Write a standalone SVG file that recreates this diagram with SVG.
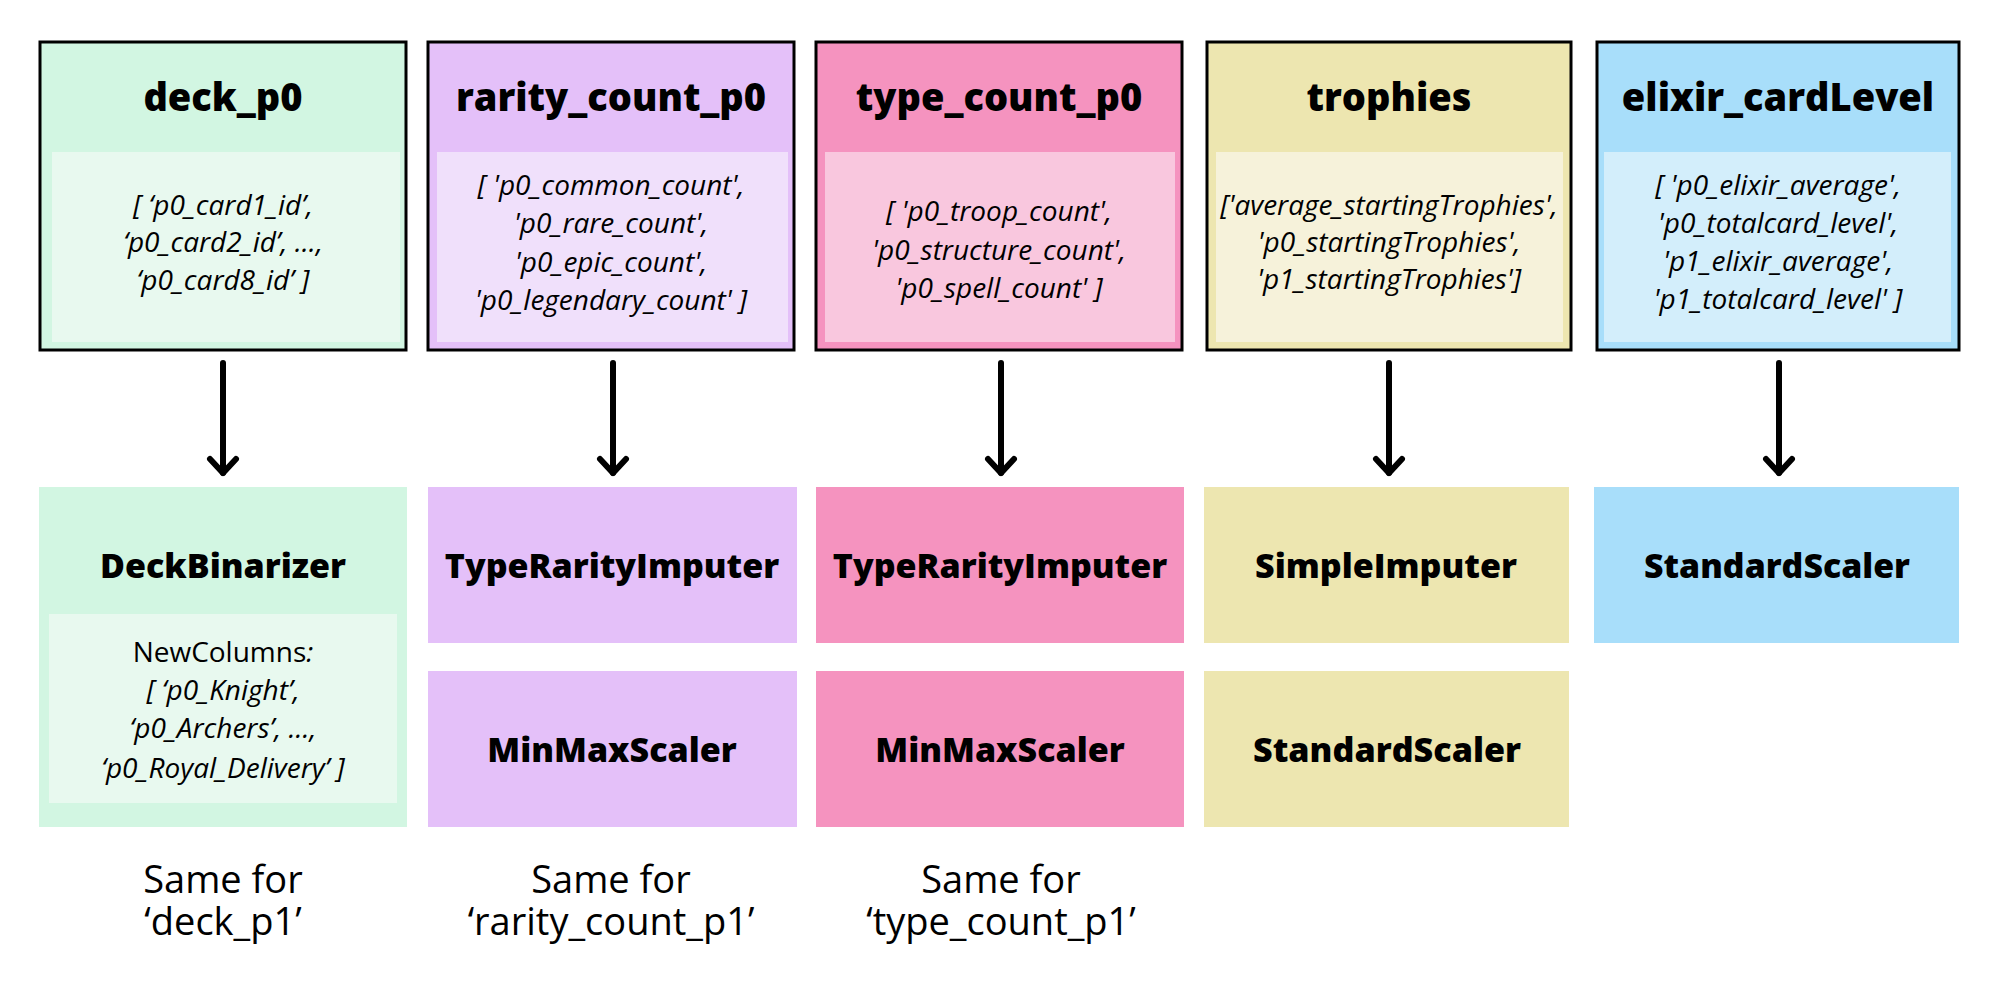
<svg xmlns="http://www.w3.org/2000/svg" width="2000" height="987" viewBox="0 0 2000 987">
<defs>
<style>
.frame{stroke:#000;stroke-width:3}
.title{font-family:"Open Sans","Liberation Sans",sans-serif;font-weight:800;font-size:38px;fill:#000;text-anchor:middle}
.lbl{font-family:"Open Sans","Liberation Sans",sans-serif;font-weight:800;font-size:34px;fill:#000;text-anchor:middle}
.cols{font-family:"Open Sans","Liberation Sans",sans-serif;font-style:italic;font-size:28px;fill:#000;text-anchor:middle}
.reg{font-style:normal}
.note{font-family:"Open Sans","Liberation Sans",sans-serif;font-size:38px;fill:#000;text-anchor:middle}
.conn{stroke:#000;stroke-width:6;fill:none;stroke-linecap:round;marker-end:url(#chev)}
.g1{fill:#d2f6e2}.g2{fill:#e8f9ef}
.p1{fill:#e4c0f9}.p2{fill:#f0e0fb}
.k1{fill:#f593bf}.k2{fill:#f9c7de}
.y1{fill:#ede6b0}.y2{fill:#f6f2da}
.b1{fill:#a8defa}.b2{fill:#d3eefb}
</style>
<marker id="chev" markerUnits="userSpaceOnUse" viewBox="-20 -20 40 40" markerWidth="40" markerHeight="40" refX="0" refY="0" orient="auto" overflow="visible">
<path d="M-14,-13 L0,0 L-14,13" fill="none" stroke="#000" stroke-width="6" stroke-linecap="round" stroke-linejoin="round"/>
</marker>
</defs>
<rect width="2000" height="987" fill="#fff"/>

<g id="deck_p0">
<rect class="g1 frame" x="40" y="42" width="366" height="308"/>
<rect class="g2" x="52" y="152" width="348" height="190"/>
<text class="title" x="223" y="111">deck_p0</text>
<text class="cols"><tspan x="223" y="215">[ ‘p0_card1_id’,</tspan><tspan x="223" y="252">‘p0_card2_id’, ...,</tspan><tspan x="223" y="290">‘p0_card8_id’ ]</tspan></text>
</g>

<g id="rarity_count_p0">
<rect class="p1 frame" x="428" y="42" width="366" height="308"/>
<rect class="p2" x="437" y="152" width="351" height="190"/>
<text class="title" x="611" y="111">rarity_count_p0</text>
<text class="cols"><tspan x="611" y="195">[ 'p0_common_count',</tspan><tspan x="611" y="233">'p0_rare_count',</tspan><tspan x="611" y="272">'p0_epic_count',</tspan><tspan x="611" y="310">'p0_legendary_count' ]</tspan></text>
</g>

<g id="type_count_p0">
<rect class="k1 frame" x="816" y="42" width="366" height="308"/>
<rect class="k2" x="825" y="152" width="350" height="190"/>
<text class="title" x="999" y="111">type_count_p0</text>
<text class="cols"><tspan x="999" y="221">[ 'p0_troop_count',</tspan><tspan x="999" y="260">'p0_structure_count',</tspan><tspan x="999" y="298">'p0_spell_count' ]</tspan></text>
</g>

<g id="trophies">
<rect class="y1 frame" x="1207" y="42" width="364" height="308"/>
<rect class="y2" x="1216" y="152" width="347" height="190"/>
<text class="title" x="1389" y="111">trophies</text>
<text class="cols"><tspan x="1389" y="215">['average_startingTrophies',</tspan><tspan x="1389" y="252">'p0_startingTrophies',</tspan><tspan x="1389" y="289">'p1_startingTrophies']</tspan></text>
</g>

<g id="elixir_cardLevel">
<rect class="b1 frame" x="1597" y="42" width="362" height="308"/>
<rect class="b2" x="1604" y="152" width="347" height="190"/>
<text class="title" x="1778" y="111">elixir_cardLevel</text>
<text class="cols"><tspan x="1778" y="195">[ 'p0_elixir_average',</tspan><tspan x="1778" y="233">'p0_totalcard_level',</tspan><tspan x="1778" y="271">'p1_elixir_average',</tspan><tspan x="1778" y="309">'p1_totalcard_level' ]</tspan></text>
</g>

<g id="connectors">
<path class="conn" d="M223,363 V473"/>
<path class="conn" d="M613,363 V473"/>
<path class="conn" d="M1001,363 V473"/>
<path class="conn" d="M1389,363 V473"/>
<path class="conn" d="M1779,363 V473"/>
</g>

<g id="DeckBinarizer">
<rect class="g1" x="39" y="487" width="368" height="340"/>
<rect class="g2" x="49" y="614" width="348" height="189"/>
<text class="lbl" x="223" y="578">DeckBinarizer</text>
<text class="cols"><tspan x="223" y="662" class="reg">NewColumns</tspan><tspan>:</tspan><tspan x="223" y="700">[ ‘p0_Knight’,</tspan><tspan x="223" y="738">‘p0_Archers’, ...,</tspan><tspan x="223" y="778">‘p0_Royal_Delivery’ ]</tspan></text>
</g>

<g id="TypeRarityImputer_rarity">
<rect class="p1" x="428" y="487" width="369" height="156"/>
<text class="lbl" x="612" y="578">TypeRarityImputer</text>
</g>
<g id="MinMaxScaler_rarity">
<rect class="p1" x="428" y="671" width="369" height="156"/>
<text class="lbl" x="612" y="762">MinMaxScaler</text>
</g>

<g id="TypeRarityImputer_type">
<rect class="k1" x="816" y="487" width="368" height="156"/>
<text class="lbl" x="1000" y="578">TypeRarityImputer</text>
</g>
<g id="MinMaxScaler_type">
<rect class="k1" x="816" y="671" width="368" height="156"/>
<text class="lbl" x="1000" y="762">MinMaxScaler</text>
</g>

<g id="SimpleImputer">
<rect class="y1" x="1204" y="487" width="365" height="156"/>
<text class="lbl" x="1386" y="578" textLength="262" lengthAdjust="spacingAndGlyphs">SimpleImputer</text>
</g>
<g id="StandardScaler_trophies">
<rect class="y1" x="1204" y="671" width="365" height="156"/>
<text class="lbl" x="1387" y="762" textLength="268" lengthAdjust="spacingAndGlyphs">StandardScaler</text>
</g>

<g id="StandardScaler_elixir">
<rect class="b1" x="1594" y="487" width="365" height="156"/>
<text class="lbl" x="1777" y="578" textLength="266" lengthAdjust="spacingAndGlyphs">StandardScaler</text>
</g>

<g id="notes">
<text class="note"><tspan x="223" y="893">Same for</tspan><tspan x="223" y="935">‘deck_p1’</tspan></text>
<text class="note"><tspan x="611" y="893">Same for</tspan><tspan x="611" y="935">‘rarity_count_p1’</tspan></text>
<text class="note"><tspan x="1001" y="893">Same for</tspan><tspan x="1001" y="935">‘type_count_p1’</tspan></text>
</g>
</svg>
